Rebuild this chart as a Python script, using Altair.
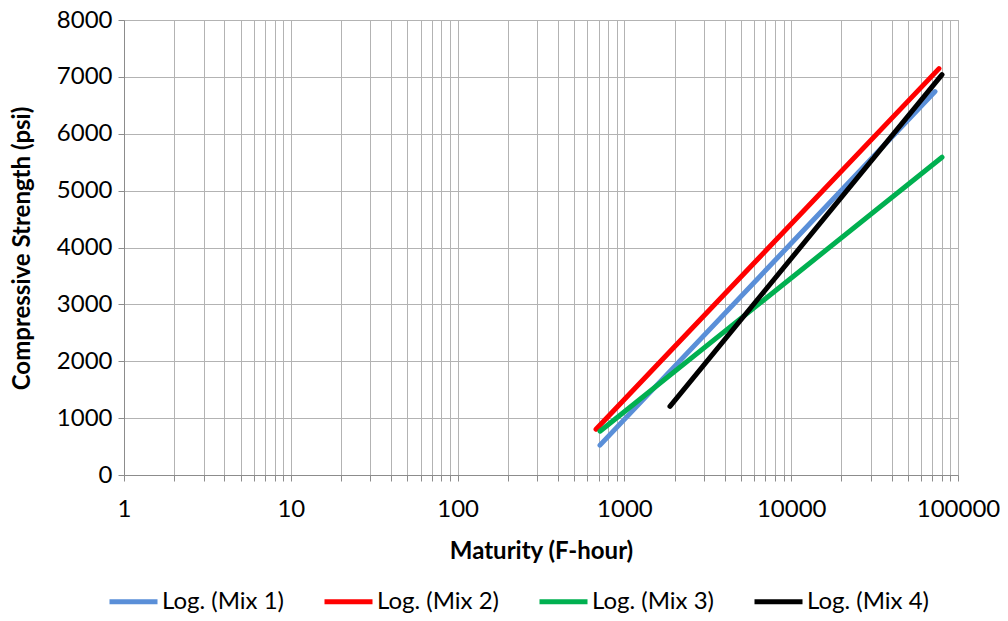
import altair as alt
import pandas as pd

series = ["Log. (Mix 1)", "Log. (Mix 2)", "Log. (Mix 3)", "Log. (Mix 4)"]
colors = ["#5A8FD8", "#FF0000", "#00B050", "#000000"]
x_start = [714, 676, 714, 1876]
y_start = [525, 806, 770, 1208]
x_end = [72800, 76900, 80200, 80200]
y_end = [6742, 7145, 5587, 7040]

x_ticks = [m * 10 ** k for k in range(5) for m in range(1, 10)] + [100000]
y_ticks = list(range(0, 8001, 1000))

rows = []
for i, s in enumerate(series):
    rows.append({"series": s, "order": i, "x": x_start[i], "y": y_start[i]})
    rows.append({"series": s, "order": i, "x": x_end[i], "y": y_end[i]})
df = pd.DataFrame(rows)

FONT = "Lato"

chart = alt.Chart(df).mark_line(strokeWidth=5, strokeCap="round").encode(
    x=alt.X("x:Q",
            scale=alt.Scale(type="log", domain=[1, 100000], nice=False),
            axis=alt.Axis(values=x_ticks, title="Maturity (F-hour)",
                          labelExpr="indexof([1,10,100,1000,10000,100000], datum.value) >= 0 ? format(datum.value, 'd') : ''",
                          labelFontSize=24, titleFontSize=24, titleFontWeight="bold",
                          labelPadding=16, titlePadding=18, tickSize=6,
                          labelFlush=False, labelOverlap=False)),
    y=alt.Y("y:Q",
            scale=alt.Scale(domain=[0, 8000], nice=False),
            axis=alt.Axis(values=y_ticks, title="Compressive Strength (psi)",
                          labelFontSize=24, titleFontSize=24, titleFontWeight="bold",
                          labelPadding=6, titleX=-90, titleY=228, tickSize=6, format="d")),
    color=alt.Color("series:N", scale=alt.Scale(domain=series, range=colors),
                    legend=alt.Legend(title=None, orient="none", direction="horizontal",
                                      legendX=-17, legendY=555,
                                      symbolType="stroke", symbolSize=2304,
                                      symbolStrokeWidth=5, labelFontSize=24,
                                      labelOffset=2, columnPadding=30)),
    order="order:Q",
    detail="series:N",
).properties(
    width=834, height=455,
    autosize=alt.AutoSizeParams(type="none"),
    padding={"left": 116, "top": 12, "right": 42, "bottom": 138},
).configure_axis(
    gridColor="#B3B3B3", gridWidth=1, domainColor="#8C8C8C", tickColor="#8C8C8C",
    labelColor="#000000", titleColor="#000000", labelFont=FONT, titleFont=FONT,
).configure_legend(labelFont=FONT, labelColor="#000000").configure_view(stroke="#B3B3B3")

chart.save("out.html", embed_options={"renderer": "svg", "actions": False})
